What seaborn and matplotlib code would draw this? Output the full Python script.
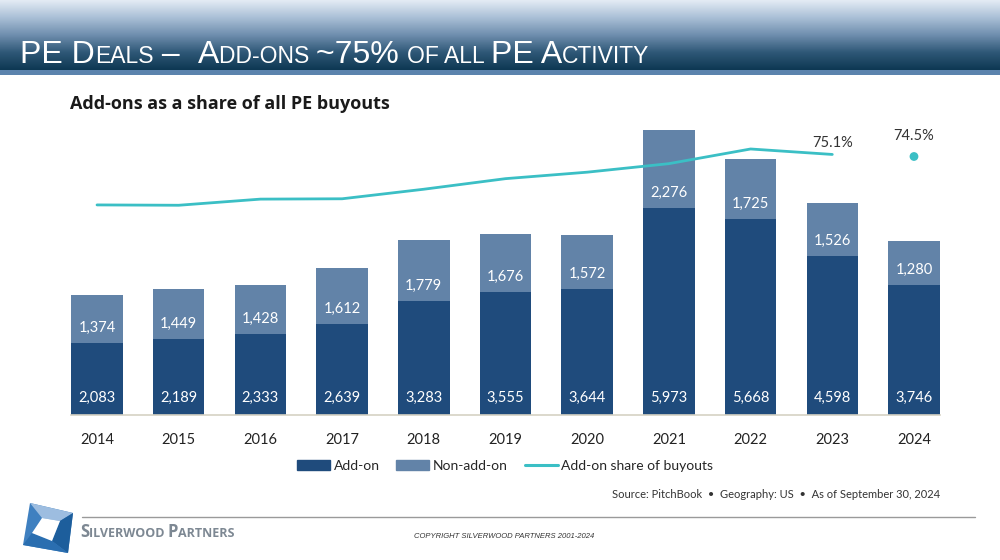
import numpy as np
import pandas as pd
import matplotlib
matplotlib.use("Agg")
import matplotlib.pyplot as plt
import seaborn as sns
from matplotlib.patches import Patch, Polygon
from matplotlib.lines import Line2D

# data
years = ["2014", "2015", "2016", "2017", "2018", "2019", "2020", "2021", "2022", "2023", "2024"]
addon = [2083, 2189, 2333, 2639, 3283, 3555, 3644, 5973, 5668, 4598, 3746]
non_addon = [1374, 1449, 1428, 1612, 1779, 1676, 1572, 2276, 1725, 1526, 1280]
share = [60.3, 60.2, 62.0, 62.1, 64.9, 68.0, 69.9, 72.4, 76.7, 75.1, 74.5]
share_labels = {"2023": "75.1%", "2024": "74.5%"}

ADD_C = "#1f4b7c"
NON_C = "#6283a8"
LINE_C = "#3bbfc5"

df = pd.DataFrame({"year": years, "addon": addon, "non_addon": non_addon, "share": share})
df["total"] = df["addon"] + df["non_addon"]
df["pos"] = np.arange(len(df))

sns.set_theme(style="white")
plt.rcParams["font.family"] = ["Lato", "DejaVu Sans"]

W, H = 1000, 560
fig = plt.figure(figsize=(10, 5.6), dpi=100)

# header band with gradient
hax = fig.add_axes([0, 1 - 70 / H, 1, 70 / H])
grad = np.linspace(0, 1, 100)[:, None]
cmap = matplotlib.colors.LinearSegmentedColormap.from_list(
    "hdr", ["#e3ebf4", "#a9bfd6", "#6f8eae", "#2f5877", "#0e3853"])
hax.imshow(grad, aspect="auto", cmap=cmap, extent=[0, 1, 0, 1])
hax.axis("off")
bax = fig.add_axes([0, 1 - 75 / H, 1, 5 / H])
bax.set_facecolor("#5b83ad")
bax.set_xticks([]); bax.set_yticks([])
for s in bax.spines.values():
    s.set_visible(False)

renderer = fig.canvas.get_renderer()


def run_text(x, y, parts, **kw):
    for s, size in parts:
        t = fig.text(x, y, s, fontsize=size, va="baseline", **kw)
        bb = t.get_window_extent(renderer)
        x += bb.width / W
    return x


run_text(20 / W, 1 - 63 / H,
         [("PE D", 23), ("EALS", 16.5), (" –  ", 23), ("A", 23), ("DD-ONS ", 16.5),
          ("~75% ", 23), ("OF ALL ", 16.5), ("PE A", 23), ("CTIVITY", 16.5)],
         color="white", family=["Liberation Sans", "DejaVu Sans"])

fig.text(70 / W, 1 - 104 / H, "Add-ons as a share of all PE buyouts",
         fontsize=13, fontweight="bold", color="#1a1a1a", va="center",
         family=["Open Sans", "DejaVu Sans"])

# main chart
ax = fig.add_axes([48 / W, 1 - 415 / H, 915 / W, 295 / H])
sns.barplot(data=df, x="year", y="total", color=NON_C, width=0.63,
            saturation=1, ax=ax, linewidth=0)
sns.barplot(data=df, x="year", y="addon", color=ADD_C, width=0.63,
            saturation=1, ax=ax, linewidth=0)
ax.set_ylim(0, 8530)
ax.set_xlim(-0.6, 10.6)
ax.set_xlabel("")
ax.set_ylabel("")
ax.set_yticks([])
ax.tick_params(axis="x", length=0, pad=13, labelsize=10.5, labelcolor="#222222")
for s in ["top", "right", "left"]:
    ax.spines[s].set_visible(False)
ax.spines["bottom"].set_color("#d6d2c4")
ax.spines["bottom"].set_linewidth(1.2)
ax.spines["bottom"].set_bounds(-0.315, 10.315)
ax.patch.set_alpha(0)

for i, row in df.iterrows():
    ax.annotate(f"{row['addon']:,}", (row["pos"], 0), xytext=(0, 12),
                textcoords="offset points", ha="center", va="center",
                color="white", fontsize=10.5)
    ax.annotate(f"{row['non_addon']:,}", (row["pos"], row["addon"]), xytext=(0, 11),
                textcoords="offset points", ha="center", va="center",
                color="white", fontsize=10.5)

# share line on a twin axis
ax2 = ax.twinx()
ax2.set_ylim(-1.3, 85.2)
line_df = df[df["year"] != "2024"]
dot_df = df[df["year"] == "2024"]
sns.lineplot(data=line_df, x="pos", y="share", color=LINE_C, linewidth=2, ax=ax2)
sns.scatterplot(data=dot_df, x="pos", y="share", color=LINE_C, s=40,
                edgecolor="none", ax=ax2)
ax2.set_yticks([])
ax2.set_ylabel("")
ax2.set_xlabel("")
for s in ax2.spines.values():
    s.set_visible(False)
for _, row in df[df["year"].isin(share_labels)].iterrows():
    off = 3 if row["year"] == "2023" else 10
    ax2.annotate(share_labels[row["year"]], (row["pos"], row["share"]),
                 xytext=(0, off), textcoords="offset points", ha="center",
                 va="bottom", fontsize=10.5, color="#333333")

# legend
handles = [Patch(color=ADD_C, label="Add-on"),
           Patch(color=NON_C, label="Non-add-on"),
           Line2D([0], [0], color=LINE_C, lw=2.2, label="Add-on share of buyouts")]
fig.legend(handles=handles, loc="center", bbox_to_anchor=(505 / W, 1 - 466 / H),
           ncol=3, frameon=False, fontsize=10, handlelength=2.4, handleheight=0.7,
           handletextpad=0.25, columnspacing=1.2)

fig.text(940 / W, 1 - 494 / H,
         "Source: PitchBook  •  Geography: US  •  As of September 30, 2024",
         ha="right", va="center", fontsize=8, color="#333333")

# footer
fig.add_artist(Line2D([82 / W, 975 / W], [1 - 517 / H, 1 - 517 / H],
                      color="#9a9a9a", lw=1, transform=fig.transFigure))


def logo_poly(pts, color):
    fig.add_artist(Polygon([(x / W, 1 - y / H) for x, y in pts], closed=True,
                           facecolor=color, edgecolor="none", transform=fig.transFigure))


outer = [(30, 503), (73, 513), (68, 553), (23, 545)]
inner = [(42, 518), (60, 521), (52, 541), (32, 533)]
logo_poly(outer, "#3f80c0")
logo_poly([outer[0], outer[1], inner[1], inner[0]], "#9dbde0")
logo_poly([outer[1], outer[2], inner[2], inner[1]], "#1d5e9c")
logo_poly([outer[2], outer[3], inner[3], inner[2]], "#2a6eb0")
logo_poly(inner, "white")

run_text(80 / W, 1 - 537 / H,
         [("S", 12), ("ILVERWOOD ", 9), ("P", 12), ("ARTNERS", 9)],
         color="#7d8893", fontweight="bold", family=["Open Sans", "DejaVu Sans"])

fig.text(504 / W, 1 - 537 / H, "COPYRIGHT SILVERWOOD PARTNERS 2001-2024",
         ha="center", va="center", fontsize=5.5, style="italic", color="#333333",
         family=["Liberation Sans", "DejaVu Sans"])

fig.savefig("out.png", dpi=100, facecolor="white")
